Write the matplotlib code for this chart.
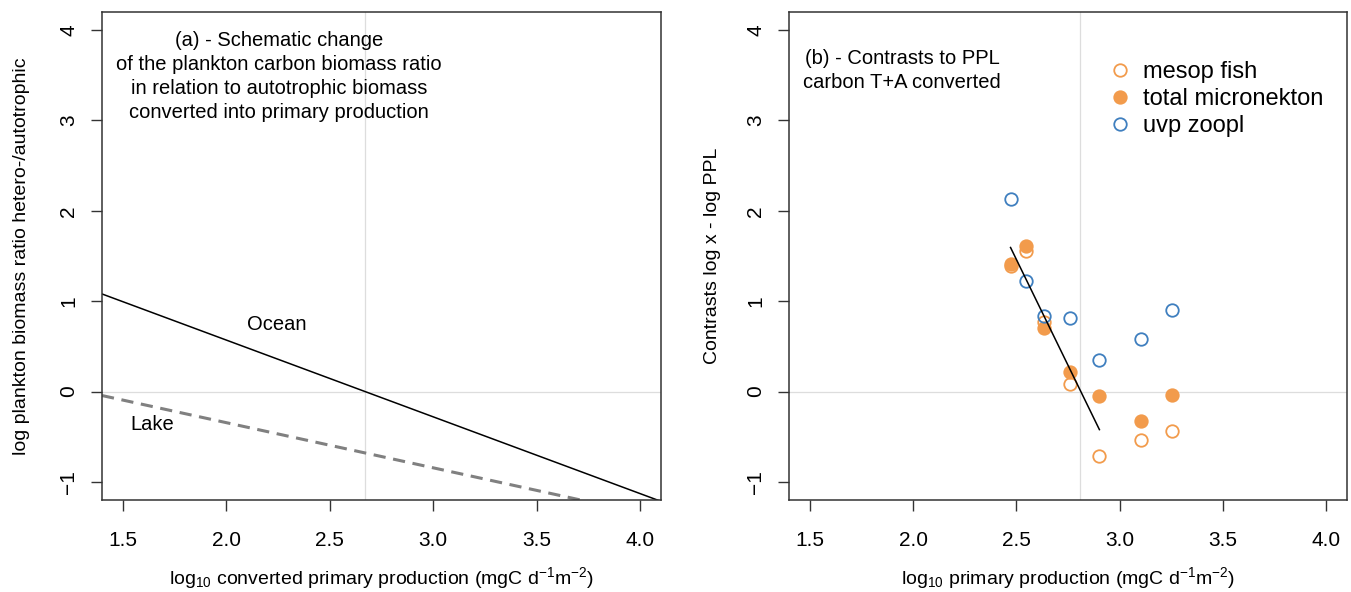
import numpy as np
import matplotlib as mpl
mpl.use('Agg')
import matplotlib.pyplot as plt

plt.rcParams['font.family'] = ['Liberation Sans', 'DejaVu Sans']
plt.rcParams['mathtext.fontset'] = 'custom'
plt.rcParams['mathtext.rm'] = 'Liberation Sans'
plt.rcParams['mathtext.it'] = 'Liberation Sans:italic'
plt.rcParams['mathtext.bf'] = 'Liberation Sans:bold'

# panel (a): schematic lines over the plotted x range
schem_x = [1.4, 4.1]
ocean_y = [1.08, -1.215]
lake_y = [-0.044, -1.394]
ref_a = 2.67

# panel (b): contrasts against log10 primary production
ppl = [2.472, 2.548, 2.635, 2.759, 2.902, 3.103, 3.254]
mesop_fish = [1.39, 1.553, 0.77, 0.089, -0.712, -0.539, -0.435]
micronekton = [1.41, 1.613, 0.705, 0.214, -0.052, -0.328, -0.041]
uvp_zoopl = [2.129, 1.221, 0.834, 0.815, 0.347, 0.583, 0.90]
n_fit = 5
ref_b = 2.81

ORANGE = '#F29B4C'
BLUE = '#3F7FBF'
GRID = '#DDDDDD'
FS = 14.5

fig = plt.figure(figsize=(13.51, 5.92), dpi=100)
axa = fig.add_axes([102/1351, 92/592, 559/1351, 488/592])
axb = fig.add_axes([789/1351, 92/592, 558/1351, 488/592])

def style(ax):
    ax.set_xlim(1.4, 4.1)
    ax.set_ylim(-1.2, 4.2)
    ax.set_xticks([1.5, 2.0, 2.5, 3.0, 3.5, 4.0])
    ax.set_xticklabels(['1.5', '2.0', '2.5', '3.0', '3.5', '4.0'])
    ax.set_yticks([-1, 0, 1, 2, 3, 4])
    ax.set_yticklabels(['\u22121', '0', '1', '2', '3', '4'], rotation=90, va='center')
    ax.tick_params(direction='out', length=8, width=1, labelsize=15, color='#333333')
    ax.tick_params(axis='x', pad=14)
    ax.tick_params(axis='y', pad=9)
    for s in ax.spines.values():
        s.set_linewidth(1.1)
        s.set_color('#333333')
    ax.axhline(0, color=GRID, lw=0.9, zorder=0)

def labels(ax, xlab, ylab, yx):
    ax.set_ylabel(ylab, fontsize=14)
    ax.yaxis.set_label_coords(yx, 0.5)
    ax.set_xlabel(xlab, fontsize=14, va='center')
    ax.xaxis.set_label_coords(0.5, -0.16)

# (a)
style(axa)
axa.axvline(ref_a, color=GRID, lw=0.9, zorder=0)
axa.plot(schem_x, ocean_y, color='black', lw=1.1)
axa.plot(schem_x, lake_y, color='#808080', lw=2.2, ls=(0, (4, 2.5)))
axa.text(2.245, 0.745, 'Ocean', fontsize=FS, ha='center', va='center')
axa.text(1.645, -0.365, 'Lake', fontsize=FS, ha='center', va='center')
axa.text(2.255, 3.485, '(a) - Schematic change\nof the plankton carbon biomass ratio\n'
         'in relation to autotrophic biomass\nconverted into primary production',
         fontsize=FS, ha='center', va='center', linespacing=1.32)
labels(axa, r'log$_{10}$ converted primary production (mgC d$^{-1}$m$^{-2}$)',
       'log plankton biomass ratio hetero-/autotrophic', -0.128)

# (b)
style(axb)
axb.axvline(ref_b, color=GRID, lw=0.9, zorder=0)
axb.plot(ppl, mesop_fish, 'o', ms=9, mfc='none', mec=ORANGE, mew=1.3,
         ls='none', label='mesop fish')
axb.plot(ppl, micronekton, 'o', ms=9, mfc=ORANGE, mec=ORANGE, mew=1.3,
         ls='none', label='total micronekton')
axb.plot(ppl, uvp_zoopl, 'o', ms=9, mfc='none', mec=BLUE, mew=1.3,
         ls='none', label='uvp zoopl')

# regression over the low-production stations, both micronekton series pooled
xf = np.array(ppl[:n_fit] * 2)
yf = np.array(mesop_fish[:n_fit] + micronekton[:n_fit])
slope, icpt = np.polyfit(xf, yf, 1)
xl = np.array([ppl[0], ppl[n_fit - 1]])
axb.plot(xl, icpt + slope * xl, color='black', lw=1.1)

axb.text(1.947, 3.556, '(b) - Contrasts to PPL\ncarbon T+A converted',
         fontsize=FS, ha='center', va='center', linespacing=1.32)
axb.legend(loc='upper left', bbox_to_anchor=(0.530, 0.943), frameon=False,
           fontsize=17, handletextpad=0.37, labelspacing=0.22, handlelength=1.2)
labels(axb, r'log$_{10}$ primary production (mgC d$^{-1}$m$^{-2}$)',
       'Contrasts log x - log PPL', -0.121)

fig.savefig('out.png', dpi=100)
